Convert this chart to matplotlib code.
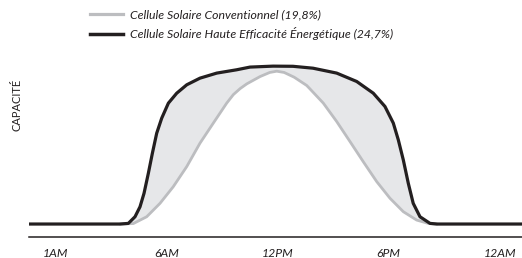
import matplotlib
matplotlib.use("Agg")
import matplotlib.pyplot as plt
from matplotlib.lines import Line2D

plt.rcParams['font.family'] = ['Lato', 'DejaVu Sans']

# Tick labels (evenly spaced time slots)
tick_labels = ["1AM", "6AM", "12PM", "6PM", "12AM"]
tick_pos = [0, 1, 2, 3, 4]

# High-efficiency cell (24.7%) - position in time slots, relative capacity
high_x = [-0.234, 0.584, 0.659, 0.719, 0.764, 0.800, 0.839, 0.875, 0.914, 0.959,
          1.019, 1.094, 1.184, 1.303, 1.454, 1.633, 1.753, 1.960, 2.139, 2.319,
          2.532, 2.712, 2.861, 2.966, 3.041, 3.086, 3.131, 3.176, 3.220, 3.281,
          3.371, 3.434, 4.198]
high_y = [0, 0, 0.4, 4.6, 10.9, 19.4, 32.1, 44.7, 57.4, 66.9,
          76.4, 82.7, 88.0, 92.2, 95.4, 97.5, 99.2, 99.8, 99.7, 98.5,
          95.4, 90.1, 82.7, 74.3, 63.8, 53.2, 40.5, 25.7, 13.1, 4.6,
          0.4, 0, 0]

# Conventional cell (19.8%)
conv_x = [0.584, 0.704, 0.824, 0.944, 1.063, 1.184, 1.303, 1.423, 1.543, 1.603,
          1.664, 1.724, 1.843, 1.930, 1.993, 2.060, 2.150, 2.262, 2.292, 2.412,
          2.532, 2.652, 2.771, 2.892, 3.011, 3.131, 3.251, 3.355, 3.434]
conv_y = [0, 0.3, 4.6, 13.1, 23.6, 36.3, 51.1, 63.8, 76.4, 81.8,
          85.6, 88.6, 93.2, 95.8, 96.6, 95.8, 92.8, 87.6, 85.4, 76.4,
          64.8, 52.1, 39.4, 26.8, 16.3, 7.8, 2.5, 0.4, 0]

label_high = "Cellule Solaire Haute Efficacité Énergétique (24,7%)"
label_conv = "Cellule Solaire Conventionnel (19,8%)"

BLACK = "#231f20"
GRAY = "#bcbdc0"
FILL = "#e6e7e9"

fig = plt.figure(figsize=(5.22, 2.58), dpi=100)
ax = fig.add_axes([29/522, 21/258, 1 - 29/522, (237-50)/258])

# shaded region between the two curves
poly_x = list(high_x[1:-1]) + list(conv_x[::-1])
poly_y = list(high_y[1:-1]) + list(conv_y[::-1])
ax.fill(poly_x, poly_y, color=FILL, lw=0, zorder=1)

ax.plot(conv_x, conv_y, color=GRAY, lw=2.0, solid_capstyle='round',
        solid_joinstyle='round', zorder=2)
ax.plot(high_x, high_y, color=BLACK, lw=2.3, solid_capstyle='butt',
        solid_joinstyle='round', zorder=3)

ax.set_xlim(-0.234, 4.198)
ax.set_ylim(-8.2, 110)

for s in ["top", "right", "left"]:
    ax.spines[s].set_visible(False)
ax.spines["bottom"].set_color(BLACK)
ax.spines["bottom"].set_linewidth(1.1)
ax.set_yticks([])
ax.set_xticks(tick_pos)
ax.set_xticklabels(tick_labels, fontstyle='italic', fontsize=8.8, color=BLACK)
ax.tick_params(axis='x', length=0, pad=8)

fig.text(17/522, 1 - 105/258, "CAPACITÉ", rotation=90, ha='center', va='center',
         fontsize=8, color=BLACK)

handles = [Line2D([], [], color=GRAY, lw=2.3),
           Line2D([], [], color=BLACK, lw=2.5)]
leg = fig.legend(handles, [label_conv, label_high], loc='upper left',
                 bbox_to_anchor=(80/522, 1 - 0/258), frameon=False,
                 handlelength=2.7, handletextpad=0.6, labelspacing=0.5,
                 borderpad=0.3, prop={'style': 'italic', 'size': 8.8})
for t in leg.get_texts():
    t.set_color(BLACK)

fig.savefig("out.png", dpi=100)
